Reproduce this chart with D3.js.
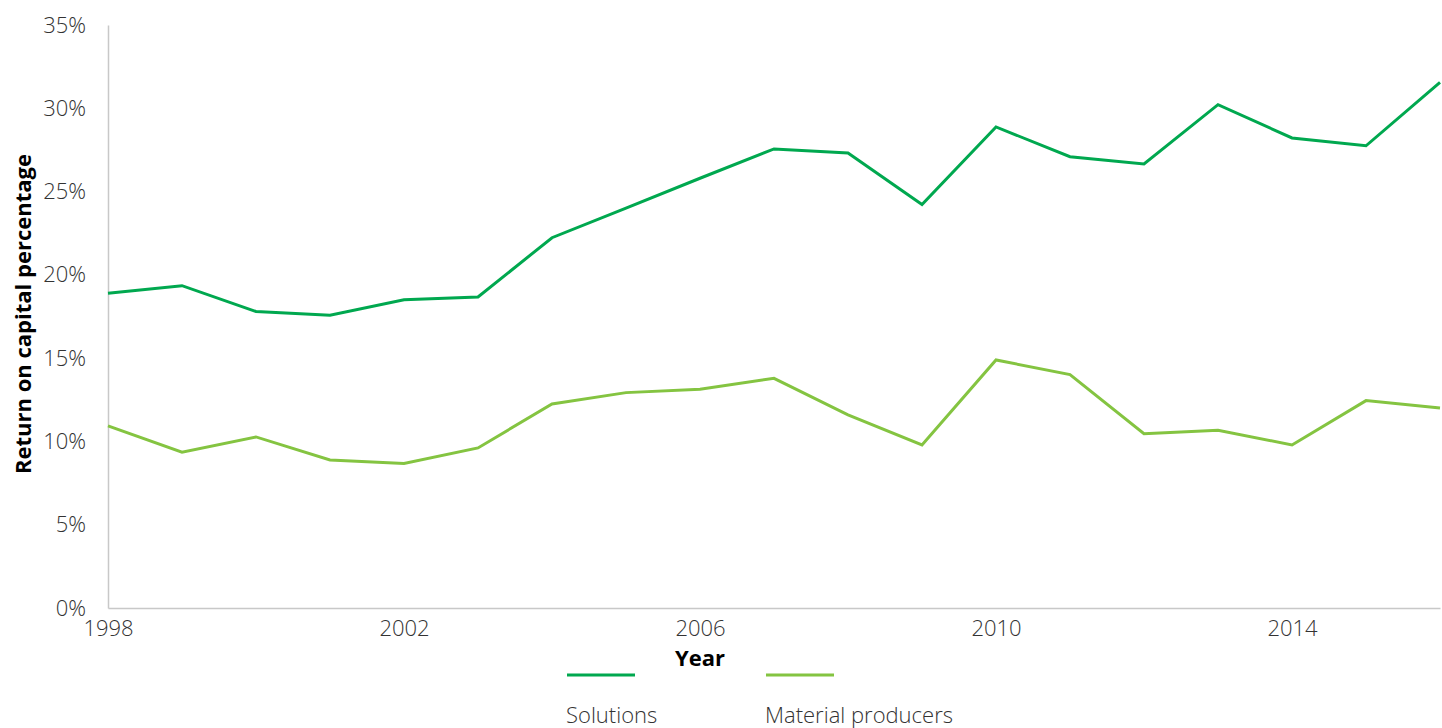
<!DOCTYPE html>
<html><head><meta charset="utf-8">
<script src="https://cdn.jsdelivr.net/npm/d3@7"></script>
<style>
html,body{margin:0;padding:0;background:#fff;}
text{font-family:"Open Sans",sans-serif;}
</style></head>
<body>
<svg id="chart" width="1442" height="728"></svg>
<script>
const years = [1998,1999,2000,2001,2002,2003,2004,2005,2006,2007,2008,2009,2010,2011,2012,2013,2014,2015,2016];
const solutions = [18.9,19.35,17.8,17.57,18.5,18.67,22.23,24.0,25.8,27.56,27.32,24.22,28.88,27.09,26.66,30.22,28.22,27.75,31.56];
const materialProducers = [10.93,9.35,10.27,8.89,8.68,9.61,12.25,12.93,13.13,13.79,11.59,9.79,14.89,14.01,10.46,10.67,9.79,12.45,12.01];
const xTicks = [1998,2002,2006,2010,2014];
const yTicks = [0,5,10,15,20,25,30,35];
const seriesNames = ["Solutions","Material producers"];
const seriesColors = ["#00a84f","#84c441"];

const W = 1442, H = 728;
const m = {l:108, r:2, t:25, b:120};
const svg = d3.select("#chart");
const x = d3.scaleLinear().domain([1998,2016]).range([m.l, W-m.r]);
const y = d3.scaleLinear().domain([0,35]).range([H-m.b, m.t]);

// axes
const yAxis = svg.append("g").attr("transform",`translate(${m.l},0)`)
  .call(d3.axisLeft(y).tickValues(yTicks).tickFormat(d=>d+"%").tickSize(0).tickPadding(22));
yAxis.select(".domain").attr("stroke","#c8c8c8").attr("stroke-width",1.5);
yAxis.selectAll("text").attr("font-size",22).attr("font-weight",300).attr("fill","#333")
  .attr("font-family","'Open Sans',sans-serif");

const xAxis = svg.append("g").attr("transform",`translate(0,${H-m.b})`)
  .call(d3.axisBottom(x).tickValues(xTicks).tickFormat(d3.format("d")).tickSize(0).tickPadding(12));
xAxis.select(".domain").attr("stroke","#c8c8c8").attr("stroke-width",1.5);
xAxis.selectAll("text").attr("font-size",22).attr("font-weight",300).attr("fill","#333")
  .attr("font-family","'Open Sans',sans-serif");

// lines
const line = d3.line().x((d,i)=>x(years[i])).y(d=>y(d));
[solutions, materialProducers].forEach((s,k)=>{
  svg.append("path").datum(s).attr("d",line).attr("fill","none")
    .attr("stroke",seriesColors[k]).attr("stroke-width",3).attr("stroke-linejoin","miter");
});

// titles
svg.append("text").attr("x",700).attr("y",666).attr("text-anchor","middle")
  .attr("font-size",22).attr("font-weight",700).attr("fill","#000").text("Year");
svg.append("text").attr("transform",`translate(31,314) rotate(-90)`).attr("text-anchor","middle")
  .attr("font-size",22).attr("font-weight",700).attr("fill","#000").text("Return on capital percentage");

// legend
const leg = svg.append("g");
const legX = [567, 766];
seriesNames.forEach((n,k)=>{
  leg.append("line").attr("x1",legX[k]).attr("x2",legX[k]+68).attr("y1",675).attr("y2",675)
    .attr("stroke",seriesColors[k]).attr("stroke-width",3);
  leg.append("text").attr("x",legX[k]-1).attr("y",723).attr("font-size",22).attr("font-weight",300)
    .attr("fill","#333").text(n);
});
</script>
</body></html>
